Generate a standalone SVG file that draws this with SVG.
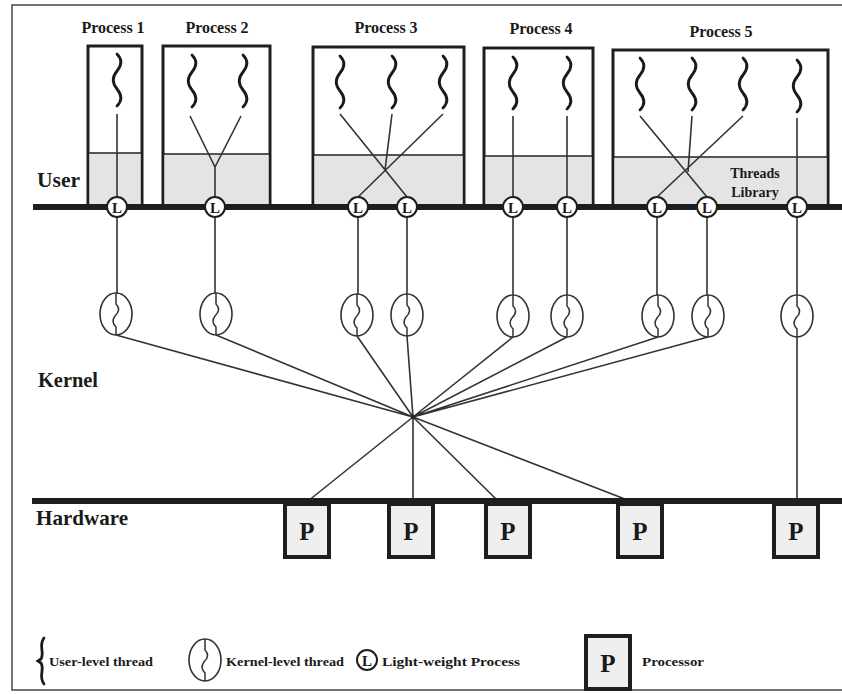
<svg xmlns="http://www.w3.org/2000/svg" width="842" height="694" viewBox="0 0 842 694">
  <style>
    .frame { fill: none; stroke: #444; stroke-width: 1.5; }
    .bar { fill: none; stroke: #1e1e1e; stroke-width: 6; }
    .box { fill: #fff; stroke: #1e1e1e; stroke-width: 3; }
    .shade { fill: #e4e4e4; }
    .div { stroke: #222; stroke-width: 1.6; }
    .link { fill: none; stroke: #333; stroke-width: 1.6; }
    .uthread { fill: none; stroke: #1a1a1a; stroke-width: 2.8; stroke-linecap: round; }
    .kt { fill: #fff; stroke: #333; stroke-width: 1.6; }
    .ks { fill: none; stroke: #333; stroke-width: 1.5; }
    .lwp { fill: #fff; stroke: #1e1e1e; stroke-width: 2; }
    .proc { fill: #efefef; stroke: #1e1e1e; stroke-width: 4; }
    .lbl { font-family: "Liberation Serif", "Times New Roman", serif; font-weight: bold; fill: #1a1a1a; }
    .ptitle { font-size: 16px; text-anchor: middle; }
    .layer { font-size: 21px; }
    .lt { font-size: 15px; text-anchor: middle; }
    .pt { font-size: 25px; text-anchor: middle; }
    .leg { font-size: 13px; }
  </style>
  <defs>
    <!-- user-level thread: wavy vertical stroke -->
    <path id="uw" class="uthread" d="M0,0 C5,5 5,11 0,17 C-5,23 -5,29 0,35 C5,41 5,47 0,52"/>
    <!-- kernel-level thread: ellipse with an S stroke -->
    <g id="kthr">
      <ellipse class="kt" cx="0" cy="0" rx="16" ry="21"/>
      <path class="ks" d="M0,-21 L0,-10 C4,-6 3,-2 -1,2 C-4,6 -3,10 0,13 L0,21"/>
    </g>
    <!-- light-weight process marker -->
    <g id="lwp">
      <circle class="lwp" cx="0" cy="0" r="10"/>
      <text class="lbl lt" x="0" y="5.5">L</text>
    </g>
    <!-- processor box -->
    <g id="cpu">
      <rect class="proc" x="0" y="0" width="44" height="53"/>
      <text class="lbl pt" x="22" y="36">P</text>
    </g>
  </defs>

  <rect width="842" height="694" fill="#fff"/>

  <!-- page frame -->
  <path class="frame" d="M842,5 L12,5 L12,690 L842,690"/>

  <!-- process boxes (user space) -->
  <g id="process1">
    <rect class="box" x="88" y="46" width="54" height="161"/>
    <rect class="shade" x="89.5" y="153" width="51" height="52"/>
    <line class="div" x1="88" y1="153" x2="142" y2="153"/>
    <text class="lbl ptitle" x="113" y="33">Process 1</text>
    <use href="#uw" x="117" y="54"/>
    <line class="link" x1="117" y1="114" x2="117" y2="197"/>
  </g>
  <g id="process2">
    <rect class="box" x="163" y="46" width="107" height="161"/>
    <rect class="shade" x="164.5" y="154" width="104" height="51"/>
    <line class="div" x1="163" y1="154" x2="270" y2="154"/>
    <text class="lbl ptitle" x="217" y="33">Process 2</text>
    <use href="#uw" x="192" y="55"/>
    <use href="#uw" x="243" y="55"/>
    <path class="link" d="M190,116 L215,167 L241,116 M215,167 L215,197"/>
  </g>
  <g id="process3">
    <rect class="box" x="313" y="47" width="151" height="160"/>
    <rect class="shade" x="314.5" y="155" width="148" height="50"/>
    <line class="div" x1="313" y1="155" x2="464" y2="155"/>
    <text class="lbl ptitle" x="386" y="33">Process 3</text>
    <use href="#uw" x="340" y="56"/>
    <use href="#uw" x="392" y="56"/>
    <use href="#uw" x="443" y="56"/>
    <path class="link" d="M340,114 L407,197 M443,114 L358,197 M392,114 L385,170"/>
  </g>
  <g id="process4">
    <rect class="box" x="484" y="48" width="109" height="159"/>
    <rect class="shade" x="485.5" y="156" width="106" height="49"/>
    <line class="div" x1="484" y1="156" x2="593" y2="156"/>
    <text class="lbl ptitle" x="541" y="34">Process 4</text>
    <use href="#uw" x="513" y="57"/>
    <use href="#uw" x="567" y="57"/>
    <path class="link" d="M513,116 L513,197 M567,116 L567,197"/>
  </g>
  <g id="process5">
    <rect class="box" x="613" y="50" width="215" height="157"/>
    <rect class="shade" x="614.5" y="157" width="212" height="48"/>
    <line class="div" x1="613" y1="157" x2="828" y2="157"/>
    <text class="lbl ptitle" x="721" y="37">Process 5</text>
    <use href="#uw" x="640" y="58"/>
    <use href="#uw" x="692" y="58"/>
    <use href="#uw" x="743" y="58"/>
    <use href="#uw" x="797" y="60"/>
    <path class="link" d="M640,116 L707,197 M743,116 L657,197 M692,116 L688,172 M797,118 L797,197"/>
    <text class="lbl" x="755" y="178" font-size="14" text-anchor="middle">Threads</text>
    <text class="lbl" x="755" y="197" font-size="14" text-anchor="middle">Library</text>
  </g>

  <!-- layer labels -->
  <text class="lbl layer" x="37" y="187" textLength="43" lengthAdjust="spacingAndGlyphs">User</text>
  <text class="lbl layer" x="38" y="387" textLength="60" lengthAdjust="spacingAndGlyphs">Kernel</text>
  <text class="lbl layer" x="36" y="525" textLength="92" lengthAdjust="spacingAndGlyphs">Hardware</text>

  <!-- connectors -->
  <g id="connectors">
    <!-- LWP to kernel thread -->
    <path class="link" d="M117,217 V294 M215,217 V294 M358,217 V294 M407,217 V294 M513,217 V295 M567,217 V295 M657,217 V295 M707,217 V295 M797,217 V295"/>
    <!-- kernel threads to dispatcher hub -->
    <path class="link" d="M116,335 L413,417 M216,335 L413,417 M357,336 L413,417 M407,336 L413,417 M513,337 L413,417 M567,337 L413,417 M658,337 L413,417 M708,337 L413,417"/>
    <!-- hub to processors -->
    <path class="link" d="M413,417 L308,501 M413,417 L413,501 M413,417 L498,501 M413,417 L630,501 M797,337 L797,501"/>
    <circle cx="413" cy="417" r="2" fill="#222"/>
  </g>

  <!-- bars -->
  <line class="bar" x1="33" y1="207" x2="842" y2="207"/>
  <line class="bar" x1="32" y1="501" x2="842" y2="501"/>

  <!-- light-weight processes -->
  <g id="lwps">
    <use href="#lwp" x="117" y="207"/>
    <use href="#lwp" x="215" y="207"/>
    <use href="#lwp" x="358" y="207"/>
    <use href="#lwp" x="407" y="207"/>
    <use href="#lwp" x="513" y="207"/>
    <use href="#lwp" x="567" y="207"/>
    <use href="#lwp" x="657" y="207"/>
    <use href="#lwp" x="707" y="207"/>
    <use href="#lwp" x="797" y="207"/>
  </g>

  <!-- kernel-level threads -->
  <g id="kthreads">
    <use href="#kthr" x="116" y="314"/>
    <use href="#kthr" x="216" y="314"/>
    <use href="#kthr" x="357" y="315"/>
    <use href="#kthr" x="407" y="315"/>
    <use href="#kthr" x="513" y="316"/>
    <use href="#kthr" x="567" y="316"/>
    <use href="#kthr" x="658" y="316"/>
    <use href="#kthr" x="708" y="316"/>
    <use href="#kthr" x="797" y="316"/>
  </g>

  <!-- processors -->
  <g id="processors">
    <use href="#cpu" x="285" y="504"/>
    <use href="#cpu" x="389" y="504"/>
    <use href="#cpu" x="486" y="504"/>
    <use href="#cpu" x="618" y="504"/>
    <use href="#cpu" x="774" y="504"/>
  </g>

  <!-- legend -->
  <g id="legend">
    <path class="uthread" d="M44,638 C38,646 45,652 41,659 L38,661 L41,663 C45,670 38,676 44,684"/>
    <text class="lbl leg" x="49" y="666" textLength="104" lengthAdjust="spacingAndGlyphs">User-level thread</text>
    <use href="#kthr" x="205" y="660"/>
    <text class="lbl leg" x="226" y="666" textLength="118" lengthAdjust="spacingAndGlyphs">Kernel-level thread</text>
    <use href="#lwp" x="367" y="660"/>
    <text class="lbl leg" x="382" y="666" textLength="138" lengthAdjust="spacingAndGlyphs">Light-weight Process</text>
    <use href="#cpu" x="586" y="636"/>
    <text class="lbl leg" x="642" y="666" textLength="62" lengthAdjust="spacingAndGlyphs">Processor</text>
  </g>
</svg>
